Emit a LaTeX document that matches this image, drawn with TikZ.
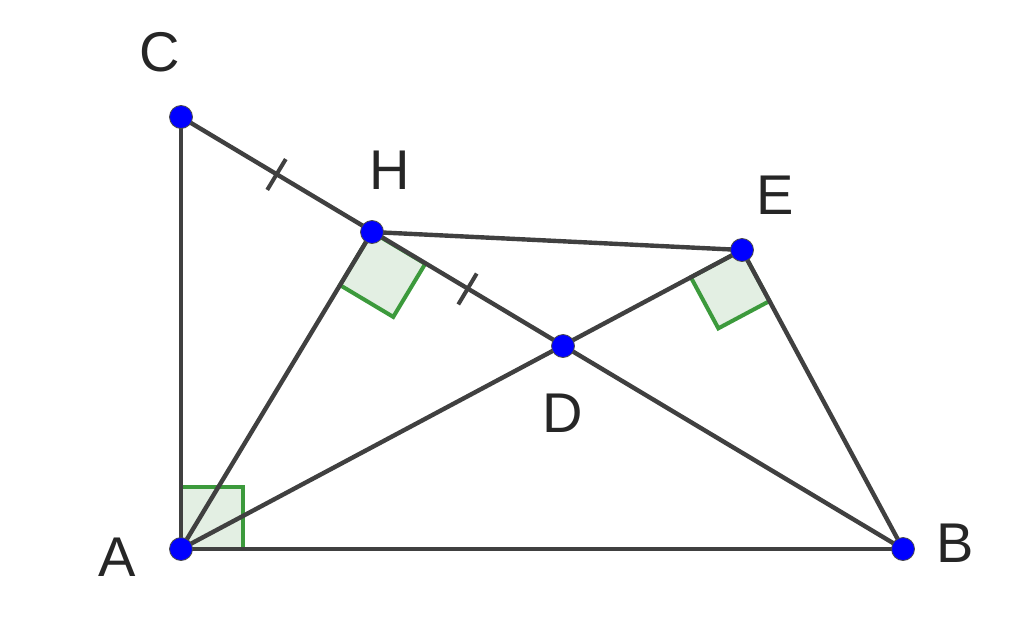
\documentclass[tikz,border=0pt]{standalone}
\usepackage{fontspec}
\setmainfont{Liberation Sans}
\usetikzlibrary{calc}
\definecolor{seg}{HTML}{404040}
\definecolor{mk}{HTML}{3C9A3C}
\definecolor{mkfill}{HTML}{E3EFE3}
\tikzset{
  segline/.style={draw=seg, line width=4.4pt},
  rmark/.style={draw=mk, fill=mkfill, line width=4pt, line join=miter},
  tickline/.style={draw=seg, line width=4pt},
  pt/.style={circle, fill=blue, draw=black!70, line width=0.8pt, minimum size=23pt, inner sep=0pt},
  lab/.style={font=\fontsize{56}{60}\selectfont, text=black!85, inner sep=0pt}
}
\begin{document}
\begin{tikzpicture}[x=1pt,y=-1pt]
\useasboundingbox (0,0) rectangle (1024,618);
\coordinate (A) at (181,549);
\coordinate (B) at (903,549);
\coordinate (C) at (181,117);
\coordinate (H) at (372,232);
\coordinate (E) at (742,250);
\coordinate (D) at (563,346);
% right-angle markers
\coordinate (a1) at ($(A)!62pt!(B)$);
\coordinate (a2) at ($(A)!62pt!(C)$);
\path[rmark] (A) -- (a1) -- ($(a1)+(a2)-(A)$) -- (a2) -- cycle;
\coordinate (h1) at ($(H)!62pt!(D)$);
\coordinate (h2) at ($(H)!62pt!(A)$);
\path[rmark] (H) -- (h1) -- ($(h1)+(h2)-(H)$) -- (h2) -- cycle;
\coordinate (e1) at ($(E)!58pt!(A)$);
\coordinate (e2) at ($(E)!58pt!(B)$);
\path[rmark] (E) -- (e1) -- ($(e1)+(e2)-(E)$) -- (e2) -- cycle;
% segments
\draw[segline] (A) -- (B);
\draw[segline] (A) -- (C);
\draw[segline] (C) -- (B);
\draw[segline] (A) -- (H);
\draw[segline] (A) -- (E);
\draw[segline] (H) -- (E);
\draw[segline] (E) -- (B);
% tick marks
\coordinate (m1) at ($(C)!0.5!(H)$);
\draw[tickline] ($(m1)!18pt!90:(H)$) -- ($(m1)!18pt!-90:(H)$);
\coordinate (m2) at ($(H)!0.5!(D)$);
\draw[tickline] ($(m2)!18pt!90:(D)$) -- ($(m2)!18pt!-90:(D)$);
% points
\node[pt] (pA) at (A) {};
\node[pt] (pB) at (B) {};
\node[pt] (pC) at (C) {};
\node[pt] (pH) at (H) {};
\node[pt] (pE) at (E) {};
\node[pt] (pD) at (D) {};
% labels
\node[lab] (lC) at (160,52) {C};
\node[lab] (lH) at (390,170) {H};
\node[lab] (lE) at (775,195) {E};
\node[lab] (lD) at (563,413) {D};
\node[lab] (lA) at (117,557) {A};
\node[lab] (lB) at (955,543) {B};
\end{tikzpicture}
\end{document}
